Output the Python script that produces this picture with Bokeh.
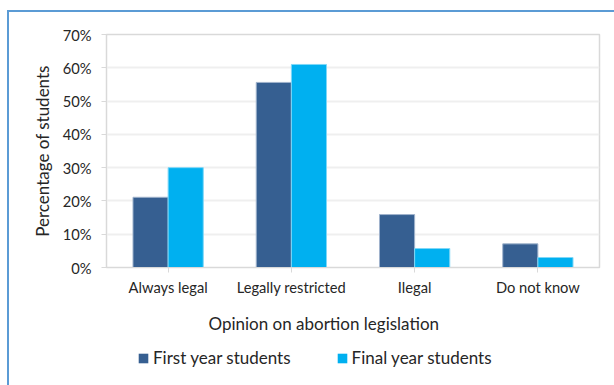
from bokeh.plotting import figure
from bokeh.layouts import column
from bokeh.models import (ColumnDataSource, FactorRange, NumeralTickFormatter, Legend, LegendItem,
                          FixedTicker, Title, Range1d)
from bokeh.transform import dodge
from bokeh.embed import file_html
from bokeh.resources import INLINE

categories = ["Always legal", "Legally restricted", "Ilegal", "Do not know"]
first_year = [0.211, 0.556, 0.159, 0.071]
final_year = [0.300, 0.610, 0.057, 0.030]
y_ticks = [0, 0.1, 0.2, 0.3, 0.4, 0.5, 0.6, 0.7]
series_names = ["First year students", "Final year students"]
series_colors = ["#365F91", "#00B0F0"]
series_lines = ["#9FB3CC", "#7FD7F7"]

FONT = "Lato"
TXT = "#262626"
src = ColumnDataSource(dict(cat=categories, first=first_year, final=final_year))

p = figure(x_range=FactorRange(*categories, range_padding=0), y_range=(0, 0.7),
           width=606, height=333, output_backend="svg", toolbar_location=None,
           min_border_left=97, min_border_right=16, min_border_top=22, min_border_bottom=78)

r1 = p.vbar(x=dodge("cat", -0.1425, range=p.x_range), top="first", width=0.285, source=src,
            fill_color=series_colors[0], line_color=series_lines[0], line_width=1)
r2 = p.vbar(x=dodge("cat", 0.1425, range=p.x_range), top="final", width=0.285, source=src,
            fill_color=series_colors[1], line_color=series_lines[1], line_width=1)

p.outline_line_color = "#D9D9D9"
p.outline_line_width = 1.5
p.background_fill_color = "white"
p.border_fill_color = "white"

p.xgrid.grid_line_color = None
p.ygrid.grid_line_color = "#EFEFEF"
p.ygrid.grid_line_width = 2
p.yaxis.ticker = FixedTicker(ticks=y_ticks)
p.yaxis.formatter = NumeralTickFormatter(format="0%")
p.yaxis.axis_line_color = "#D9D9D9"
p.yaxis.major_tick_line_color = "#D9D9D9"
p.yaxis.major_tick_out = 5
p.yaxis.major_tick_in = 0
p.yaxis.minor_tick_line_color = None
p.yaxis.major_label_standoff = 10
p.yaxis.axis_label = "Percentage of students"
p.yaxis.axis_label_standoff = 7

p.xaxis.axis_line_color = "#D9D9D9"
p.xaxis.major_tick_line_color = "#D9D9D9"
p.xaxis.major_tick_out = 5
p.xaxis.major_tick_in = 0
p.xaxis.major_label_standoff = 5

for ax in (p.xaxis[0], p.yaxis[0]):
    ax.major_label_text_font = FONT
    ax.major_label_text_font_size = "14.7px"
    ax.major_label_text_color = TXT
    ax.axis_label_text_font = FONT
    ax.axis_label_text_font_size = "17px"
    ax.axis_label_text_font_style = "normal"
    ax.axis_label_text_color = TXT

xtitle = Title(text="Opinion on abortion legislation", align="left", offset=102,
               text_font=FONT, text_font_size="17px", text_font_style="normal",
               text_color=TXT, standoff=24)
p.add_layout(xtitle, "below")

# legend strip (bars fall outside its view range, only the legend shows)
lf = figure(x_range=p.x_range, y_range=Range1d(1, 2), width=606, height=40,
            output_backend="svg", toolbar_location=None, x_axis_type=None, y_axis_type=None,
            min_border_left=0, min_border_right=0, min_border_top=0, min_border_bottom=0)
lf.grid.grid_line_color = None
lf.outline_line_color = None
lf.background_fill_color = "white"
lf.border_fill_color = "white"
l1 = lf.vbar(x=dodge("cat", -0.1425, range=p.x_range), top="first", width=0.285, source=src,
             fill_color=series_colors[0], line_color=None)
l2 = lf.vbar(x=dodge("cat", 0.1425, range=p.x_range), top="final", width=0.285, source=src,
             fill_color=series_colors[1], line_color=None)
legend = Legend(items=[LegendItem(label=series_names[0], renderers=[l1]),
                       LegendItem(label=series_names[1], renderers=[l2])],
                orientation="horizontal", location=(31, 17),
                padding=0, margin=0, spacing=45, label_standoff=4,
                glyph_width=12, glyph_height=12, label_height=12,
                label_text_font=FONT, label_text_font_size="17px", label_text_color=TXT,
                border_line_color=None, background_fill_alpha=0)
lf.add_layout(legend)

layout = column(p, lf, spacing=0,
                styles={"margin-left": "7px", "margin-top": "10px",
                        "border-left": "2px solid #5B9BD5", "border-top": "2px solid #5B9BD5"})

open("out.html", "w").write(file_html(layout, INLINE))
